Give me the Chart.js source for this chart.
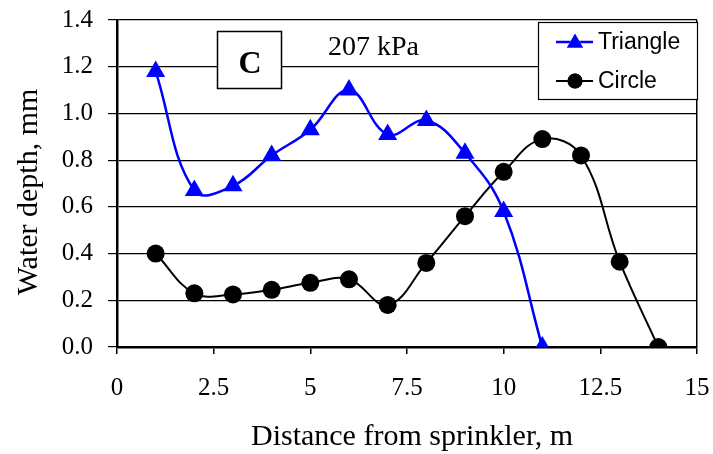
<!DOCTYPE html>
<html>
<head>
<meta charset="utf-8">
<script src="https://cdn.jsdelivr.net/npm/chart.js@4/dist/chart.umd.min.js"></script>
<style>
  html, body { margin: 0; padding: 0; background: #fff; }
  #wrap { width: 713px; height: 454px; }
</style>
</head>
<body>
<div id="wrap"><canvas id="chart" width="713" height="454"></canvas></div>
<script>
// distances (m) and measured water depth (mm)
var dist_triangle = [1, 2, 3, 4, 5, 6, 7, 8, 9, 10, 11];
var depth_triangle = [1.18, 0.67, 0.69, 0.82, 0.93, 1.10, 0.91, 0.97, 0.83, 0.58, 0.0];

var dist_circle = [1, 2, 3, 4, 5, 6, 7, 8, 9, 10, 11, 12, 13, 14];
var depth_circle = [0.40, 0.23, 0.225, 0.245, 0.275, 0.29, 0.18, 0.36, 0.56, 0.75, 0.89, 0.82, 0.365, 0.0];

var xTicks = [0, 2.5, 5, 7.5, 10, 12.5, 15];
var yTicks = [0.0, 0.2, 0.4, 0.6, 0.8, 1.0, 1.2, 1.4];

var panelLabel = "C";
var pressureLabel = "207 kPa";
var xTitle = "Distance from sprinkler, m";
var yTitle = "Water depth, mm";

function toXY(xs, ys) {
  var out = [];
  for (var i = 0; i < xs.length; i++) out.push({x: xs[i], y: ys[i]});
  return out;
}

var serif = "'Liberation Serif', 'Times New Roman', serif";
var sans = "'Liberation Sans', Arial, sans-serif";

// axis titles, panel letter box, pressure text and the legend
var overlay = {
  id: 'overlay',
  afterDatasetsDraw: function(chart) {
    var ctx = chart.ctx;
    var area = chart.chartArea;
    ctx.save();

    ctx.fillStyle = '#000';
    ctx.font = '30px ' + serif;
    ctx.textAlign = 'center';
    ctx.textBaseline = 'alphabetic';
    ctx.fillText(xTitle, 412, 445);

    ctx.save();
    ctx.translate(37, 192);
    ctx.rotate(-Math.PI / 2);
    ctx.fillText(yTitle, 0, 0);
    ctx.restore();

    // panel letter box
    ctx.fillStyle = '#fff';
    ctx.fillRect(217, 31, 65, 58);
    ctx.strokeStyle = '#000';
    ctx.lineWidth = 1.5;
    ctx.strokeRect(217.5, 31.5, 64, 57);
    ctx.fillStyle = '#000';
    ctx.font = 'bold 32px ' + serif;
    ctx.textAlign = 'center';
    ctx.textBaseline = 'alphabetic';
    ctx.fillText(panelLabel, 250, 73);

    ctx.font = '28px ' + serif;
    ctx.textAlign = 'left';
    ctx.fillText(pressureLabel, 328, 55);

    // legend
    var lx = 538, ly = 22, lw = area.right - 538, lh = 77;
    ctx.fillStyle = '#fff';
    ctx.fillRect(lx, ly, lw, lh);
    ctx.strokeStyle = '#000';
    ctx.lineWidth = 1.2;
    ctx.strokeRect(lx + 0.5, ly + 0.5, lw, lh);

    var rows = [42, 81];
    chart.data.datasets.forEach(function(ds, i) {
      var y = rows[i];
      ctx.strokeStyle = ds.borderColor;
      ctx.lineWidth = ds.borderWidth;
      ctx.beginPath();
      ctx.moveTo(556, y);
      ctx.lineTo(593, y);
      ctx.stroke();
      var tri = ds.pointStyle === 'triangle';
      Chart.helpers.drawPoint(ctx, {
        pointStyle: ds.pointStyle,
        radius: tri ? 9.5 : 7.5,
        borderWidth: 0
      }, 575, tri ? y + 1 : y);
      ctx.fillStyle = ds.pointBackgroundColor;
      ctx.fill();
      ctx.fillStyle = '#000';
      ctx.font = '23px ' + sans;
      ctx.textAlign = 'left';
      ctx.textBaseline = 'middle';
      ctx.fillText(ds.label, 598, y + 1);
    });
    ctx.restore();
  }
};

new Chart(document.getElementById('chart'), {
  type: 'scatter',
  data: {
    datasets: [{
      label: 'Triangle',
      data: toXY(dist_triangle, depth_triangle),
      showLine: true,
      tension: 0.4,
      borderColor: '#0000ff',
      backgroundColor: '#0000ff',
      pointBackgroundColor: '#0000ff',
      pointBorderColor: '#0000ff',
      borderWidth: 2.5,
      pointStyle: 'triangle',
      pointRadius: 11,
      pointBorderWidth: 0
    }, {
      label: 'Circle',
      data: toXY(dist_circle, depth_circle),
      showLine: true,
      tension: 0.4,
      borderColor: '#000000',
      backgroundColor: '#000000',
      pointBackgroundColor: '#000000',
      pointBorderColor: '#000000',
      borderWidth: 2,
      pointStyle: 'circle',
      pointRadius: 9,
      pointBorderWidth: 0
    }]
  },
  options: {
    responsive: false,
    animation: false,
    events: [],
    layout: { padding: { top: 20, right: 16, left: 0, bottom: 0 } },
    plugins: {
      legend: { display: false },
      tooltip: { enabled: false }
    },
    scales: {
      x: {
        type: 'linear',
        min: 0,
        max: 15,
        afterFit: function(scale) {
          scale.height = 107;
          scale.paddingLeft = 0;
          scale.paddingRight = 0;
        },
        afterBuildTicks: function(scale) {
          scale.ticks = xTicks.map(function(v) { return {value: v}; });
        },
        ticks: {
          color: '#000',
          padding: 19,
          maxRotation: 0,
          autoSkip: false,
          font: { family: serif, size: 25 },
          callback: function(v) { return String(v); }
        },
        grid: {
          drawOnChartArea: true,
          color: function(c) { return c.tick && c.tick.value === 15 ? '#000' : 'rgba(0,0,0,0)'; },
          lineWidth: 1.5,
          tickColor: '#000',
          tickLength: 7,
          tickWidth: 1.5
        },
        border: { color: '#000', width: 2.5 }
      },
      y: {
        min: 0,
        max: 1.4,
        afterFit: function(scale) {
          scale.width = 117;
          scale.paddingTop = 0;
          scale.paddingBottom = 0;
        },
        afterBuildTicks: function(scale) {
          scale.ticks = yTicks.map(function(v) { return {value: v}; });
        },
        ticks: {
          color: '#000',
          padding: 15,
          autoSkip: false,
          font: { family: serif, size: 25 },
          callback: function(v) { return Number(v).toFixed(1); }
        },
        grid: {
          color: '#000',
          lineWidth: 1.2,
          tickColor: '#000',
          tickLength: 9,
          tickWidth: 1.2
        },
        border: { color: '#000', width: 2.5 }
      }
    }
  },
  plugins: [overlay]
});
</script>
</body>
</html>
